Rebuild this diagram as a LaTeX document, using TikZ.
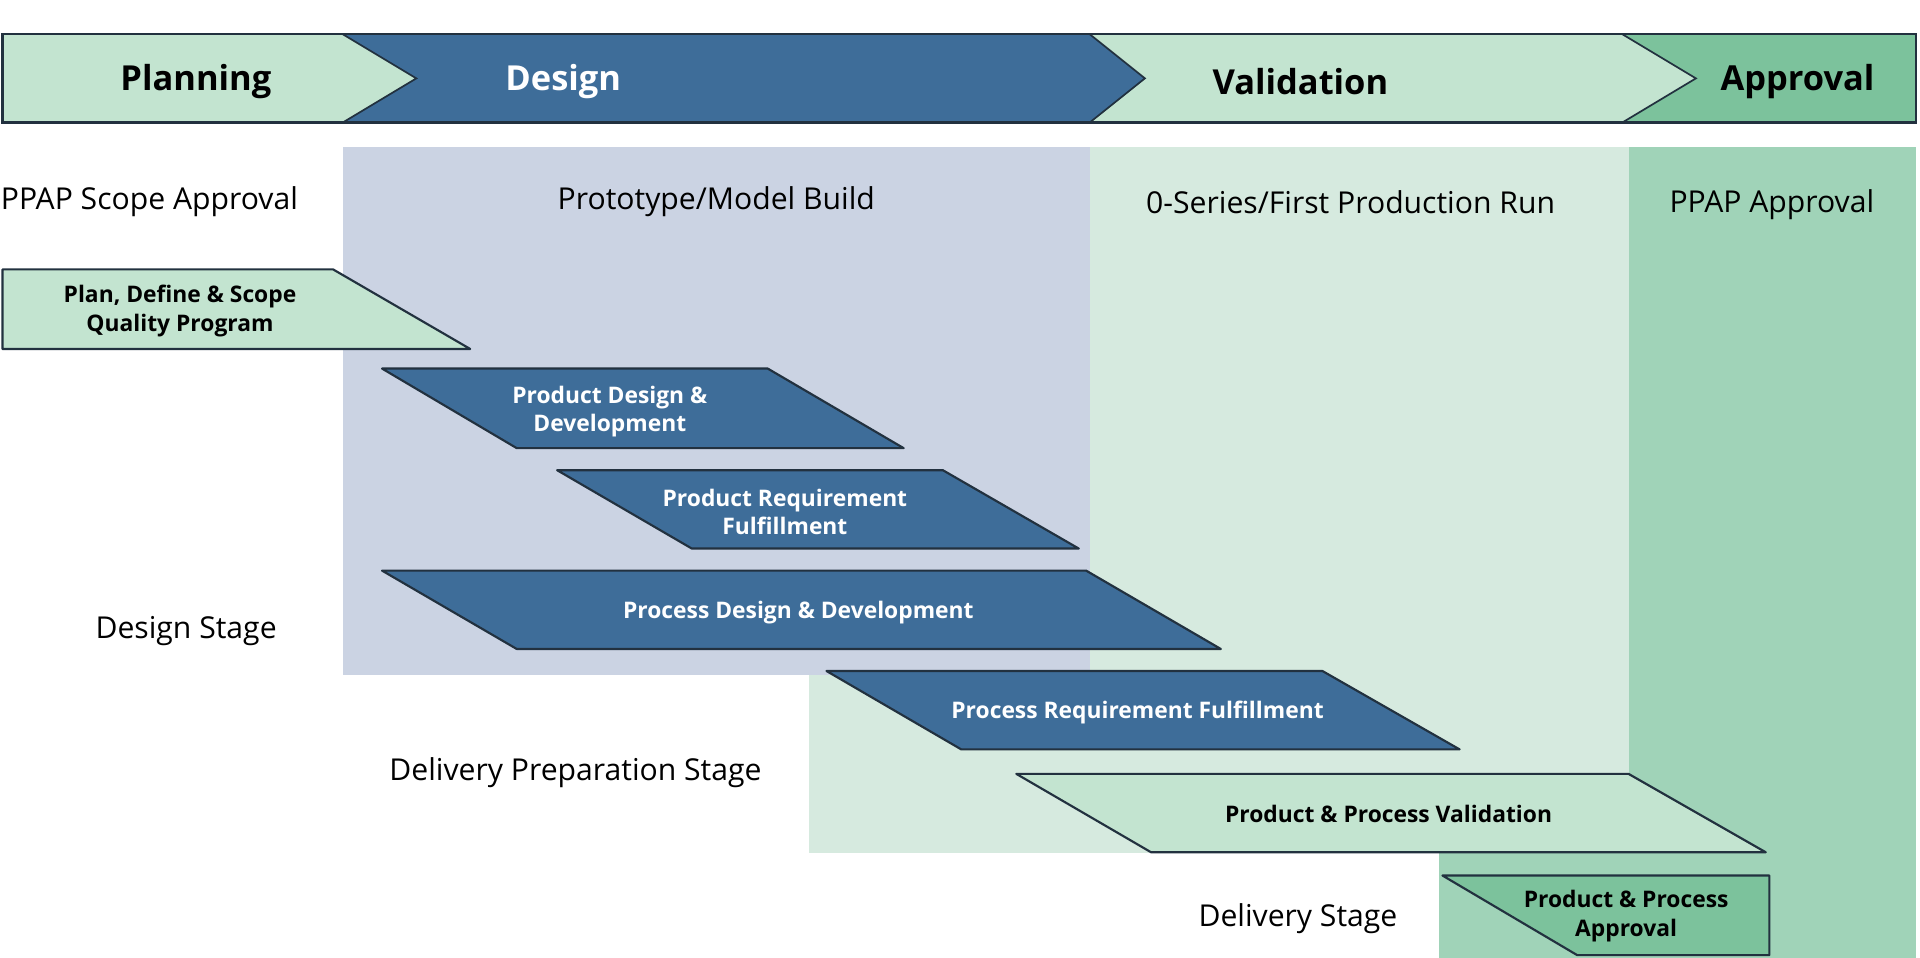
\documentclass[tikz,border=0pt]{standalone}
\usepackage{fontspec}
\setmainfont{Open Sans}
\usetikzlibrary{positioning}
\definecolor{darkblue}{HTML}{3E6D99}
\definecolor{lightgreen}{HTML}{C3E4D0}
\definecolor{valbg}{HTML}{D6EADF}
\definecolor{apprbg}{HTML}{A0D3B8}
\definecolor{apprbar}{HTML}{7CC29C}
\definecolor{designbg}{HTML}{CBD3E3}
\definecolor{edge}{HTML}{22313F}
\tikzset{
  phase/.style = {font=\bfseries\fontsize{8}{9}\selectfont, text=black},
  label/.style = {font=\fontsize{7}{8}\selectfont, text=black},
  activity/.style = {draw=edge, line width=0.5pt, line join=round},
  acttext/.style = {font=\bfseries\fontsize{5.3}{6.6}\selectfont, align=center, text=white},
}
\begin{document}
\begin{tikzpicture}[x=0.01cm, y=-0.01cm]
  \useasboundingbox (0,0) rectangle (1568,782);
  % background regions
  \fill[valbg] (661,551) rectangle (1330,697);
  \fill[valbg] (890,120) rectangle (1330,551);
  \fill[designbg] (280,120) rectangle (890,551);
  \fill[apprbg] (1330,120) rectangle (1565,782);
  \fill[apprbg] (1175,697) rectangle (1330,782);

  % banner
  \fill[lightgreen] (2,28) -- (280,28) -- (340,64) -- (280,100) -- (2,100) -- cycle;
  \fill[darkblue] (280,28) -- (890,28) -- (935,64) -- (890,100) -- (280,100) -- (340,64) -- cycle;
  \fill[lightgreen] (890,28) -- (1325,28) -- (1385,64) -- (1325,100) -- (890,100) -- (935,64) -- cycle;
  \fill[apprbar] (1325,28) -- (1565,28) -- (1565,100) -- (1325,100) -- (1385,64) -- cycle;
  \draw[edge, line width=0.5pt] (2,28) rectangle (1565,100);
  \draw[edge, line width=0.4pt] (280,28) -- (340,64) -- (280,100)
    (890,28) -- (935,64) -- (890,100) (1325,28) -- (1385,64) -- (1325,100);
  \node[phase] (planning) at (160,67) {Planning};
  \node[phase, text=white] (design) at (460,67) {Design};
  \node[phase] (validation) at (1062,67) {Validation};
  \node[phase] (approval) at (1468,67) {Approval};

  % milestones and stages
  \node[label] (scope) at (122,165) {PPAP Scope Approval};
  \node[label] (proto) at (585,165) {Prototype/Model Build};
  \node[label] (series) at (1103,165) {0-Series/First Production Run};
  \node[label] (ppap) at (1447,167) {PPAP Approval};
  \node[label] (dstage) at (152,515) {Design Stage};
  \node[label] (prepstage) at (470,631) {Delivery Preparation Stage};
  \node[label] (delstage) at (1060,750) {Delivery Stage};

  % activities
  \draw[activity, fill=lightgreen] (2,220) -- (272,220) -- (384,285) -- (2,285) -- cycle;
  \node[acttext, text=black] (plan) at (147,254) {Plan, Define \& Scope\\Quality Program};
  \draw[activity, fill=darkblue] (312,301) -- (627,301) -- (738,366) -- (422,366) -- cycle;
  \node[acttext] (proddev) at (498,336) {Product Design \&\\Development};
  \draw[activity, fill=darkblue] (455,384) -- (770,384) -- (881,448) -- (565,448) -- cycle;
  \node[acttext] (prodreq) at (641,418) {Product Requirement\\Fulfillment};
  \draw[activity, fill=darkblue] (312,466) -- (887,466) -- (997,530) -- (422,530) -- cycle;
  \node[acttext] (procdev) at (652,500) {Process Design \& Development};
  \draw[activity, fill=darkblue] (675,548) -- (1080,548) -- (1192,612) -- (785,612) -- cycle;
  \node[acttext] (procreq) at (929,582) {Process Requirement Fulfillment};
  \draw[activity, fill=lightgreen] (830,632) -- (1330,632) -- (1442,696) -- (940,696) -- cycle;
  \node[acttext, text=black] (valid) at (1134,665) {Product \& Process Validation};
  \draw[activity, fill=apprbar] (1178,715) -- (1445,715) -- (1445,780) -- (1288,780) -- cycle;
  \node[acttext, text=black] (appr) at (1328,748) {Product \& Process\\Approval};
\end{tikzpicture}
\end{document}
